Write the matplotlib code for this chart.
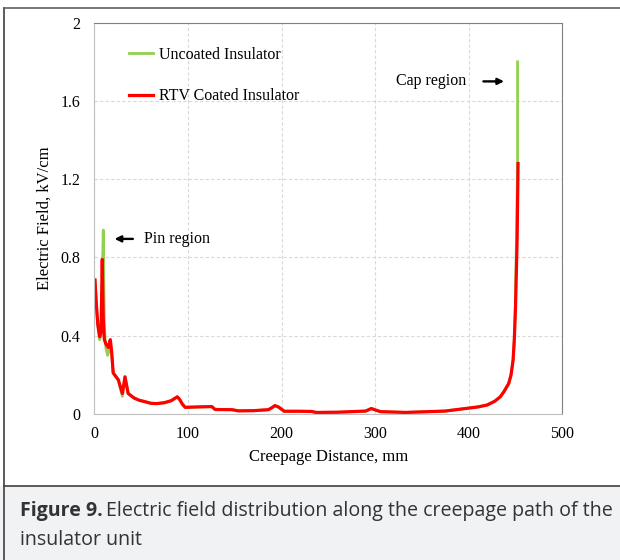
import numpy as np
import matplotlib
matplotlib.use('Agg')
import matplotlib.pyplot as plt
from matplotlib.patches import Rectangle
from matplotlib.lines import Line2D

# pin region (start of creepage path) - the two coatings differ here
x_pin_unc = [0.5, 2, 3.5, 5.5, 7, 8.3, 9.4, 10.5, 12, 14, 15.5, 16.9, 18.5, 20, 25.5, 29.8, 32.6, 36]
e_pin_unc = [0.685, 0.56, 0.45, 0.38, 0.40, 0.70, 0.94, 0.45, 0.34, 0.30, 0.32, 0.37, 0.30, 0.21, 0.17, 0.09, 0.19, 0.105]
x_pin_rtv = [0.5, 2, 3.5, 5.5, 7, 8.3, 9.3, 10.5, 12, 14.8, 16.9, 18.3, 20, 25.5, 29.8, 32.6, 36]
e_pin_rtv = [0.685, 0.56, 0.46, 0.395, 0.42, 0.79, 0.50, 0.38, 0.36, 0.34, 0.38, 0.32, 0.21, 0.175, 0.105, 0.19, 0.105]

# shank / sheds - curves overlap
x_mid = [40, 43, 48, 54, 60, 66.5, 75, 82, 86, 88.5, 91, 94, 97, 110, 125.5, 129, 147, 154, 170, 186, 190,
         193, 197, 203, 220, 232, 237, 260, 290, 296, 302, 306, 333, 375, 400, 410, 420, 428, 434, 438,
         443, 445.5, 447.7, 449]
e_mid = [0.09, 0.08, 0.07, 0.063, 0.055, 0.053, 0.058, 0.068, 0.08, 0.088, 0.075, 0.05, 0.034, 0.036, 0.038,
         0.023, 0.022, 0.016, 0.017, 0.022, 0.033, 0.043, 0.035, 0.014, 0.014, 0.013, 0.008, 0.009, 0.015,
         0.028, 0.018, 0.012, 0.008, 0.015, 0.03, 0.036, 0.046, 0.065, 0.088, 0.115, 0.156, 0.2, 0.276, 0.38]

# cap region
x_cap_unc = [450, 451.5, 452.5, 452.5]
e_cap_unc = [0.52, 0.95, 1.30, 1.80]
x_cap_rtv = [450.3, 452, 453]
e_cap_rtv = [0.55, 0.89, 1.28]

x_unc = x_pin_unc + x_mid + x_cap_unc
e_unc = e_pin_unc + e_mid + e_cap_unc
x_rtv = x_pin_rtv + x_mid + x_cap_rtv
e_rtv = e_pin_rtv + e_mid + e_cap_rtv

serif = 'Liberation Serif'

fig = plt.figure(figsize=(6.2, 5.6), dpi=100)
ax = fig.add_axes([94.5 / 620, 1 - 414 / 560, (562 - 94.5) / 620, (414 - 22.7) / 560])

ax.plot(x_unc, e_unc, color='#92d050', lw=2.0, label='Uncoated Insulator', solid_joinstyle='round')
ax.plot(x_rtv, e_rtv, color='#ff0000', lw=2.3, label='RTV Coated Insulator', solid_joinstyle='round')

ax.set_xlim(0, 500)
ax.set_ylim(0, 2)
ax.set_xticks([0, 100, 200, 300, 400, 500])
ax.set_yticks([0, 0.4, 0.8, 1.2, 1.6, 2])
ax.set_yticklabels(['0', '0.4', '0.8', '1.2', '1.6', '2'])
ax.tick_params(length=0, labelsize=11.5)
ax.tick_params(axis='y', pad=10)
ax.tick_params(axis='x', pad=9)
for lb in ax.get_xticklabels() + ax.get_yticklabels():
    lb.set_fontfamily(serif)
ax.grid(True, color='#d9d9d9', linestyle=(0, (3, 2)), lw=0.8)
ax.set_axisbelow(True)
ax.spines['left'].set_color('#bfbfbf')
ax.spines['bottom'].set_color('#bfbfbf')
ax.spines['top'].set_color('#808080')
ax.spines['right'].set_color('#808080')

ax.set_xlabel('Creepage Distance, mm', fontsize=12, family=serif, labelpad=5)
ax.set_ylabel('Electric Field, kV/cm', fontsize=12, family=serif, labelpad=6)

ax.legend(loc='upper left', bbox_to_anchor=(0.043, 0.975), frameon=False,
          prop={'family': serif, 'size': 11.5}, handlelength=1.5, handletextpad=0.35,
          labelspacing=1.6)

ax.annotate('', xy=(18.5, 0.895), xytext=(44, 0.895),
            arrowprops=dict(arrowstyle='-|>', color='black', lw=1.7, mutation_scale=9))
ax.text(53, 0.895, 'Pin region', fontsize=11.5, family=serif, va='center')
ax.annotate('', xy=(441, 1.70), xytext=(413, 1.70),
            arrowprops=dict(arrowstyle='-|>', color='black', lw=1.7, mutation_scale=9))
ax.text(398, 1.70, 'Cap region', fontsize=11.5, family=serif, va='center', ha='right')

# frame around the figure and caption panel
fig.add_artist(Rectangle((0, 0), 1, 1 - 486 / 560, transform=fig.transFigure,
                         facecolor='#f1f2f4', edgecolor='none', zorder=-5))
fig.add_artist(Line2D([4 / 620, 4 / 620], [0, 1 - 8 / 560], transform=fig.transFigure, color='#404040', lw=1.2))
fig.add_artist(Line2D([4 / 620, 1], [1 - 8 / 560, 1 - 8 / 560], transform=fig.transFigure, color='#606060', lw=1.2))
fig.add_artist(Line2D([4 / 620, 1], [1 - 485.5 / 560, 1 - 485.5 / 560], transform=fig.transFigure, color='#404040', lw=1.2))

cap_font = 'Open Sans'
cap_size = 14.1
t1 = fig.text(20 / 620, 1 - 511 / 560, 'Figure 9.', fontsize=cap_size, family=cap_font, weight='bold',
              color='#333333', va='center')
fig.canvas.draw()
bb = t1.get_window_extent(fig.canvas.get_renderer())
fig.text(bb.x1 / fig.bbox.width + 3 / 620, 1 - 511 / 560,
         'Electric field distribution along the creepage path of the', fontsize=cap_size,
         family=cap_font, color='#333333', va='center')
fig.text(20 / 620, 1 - 540 / 560, 'insulator unit', fontsize=cap_size, family=cap_font,
         color='#333333', va='center')

fig.savefig('out.png', dpi=100)
